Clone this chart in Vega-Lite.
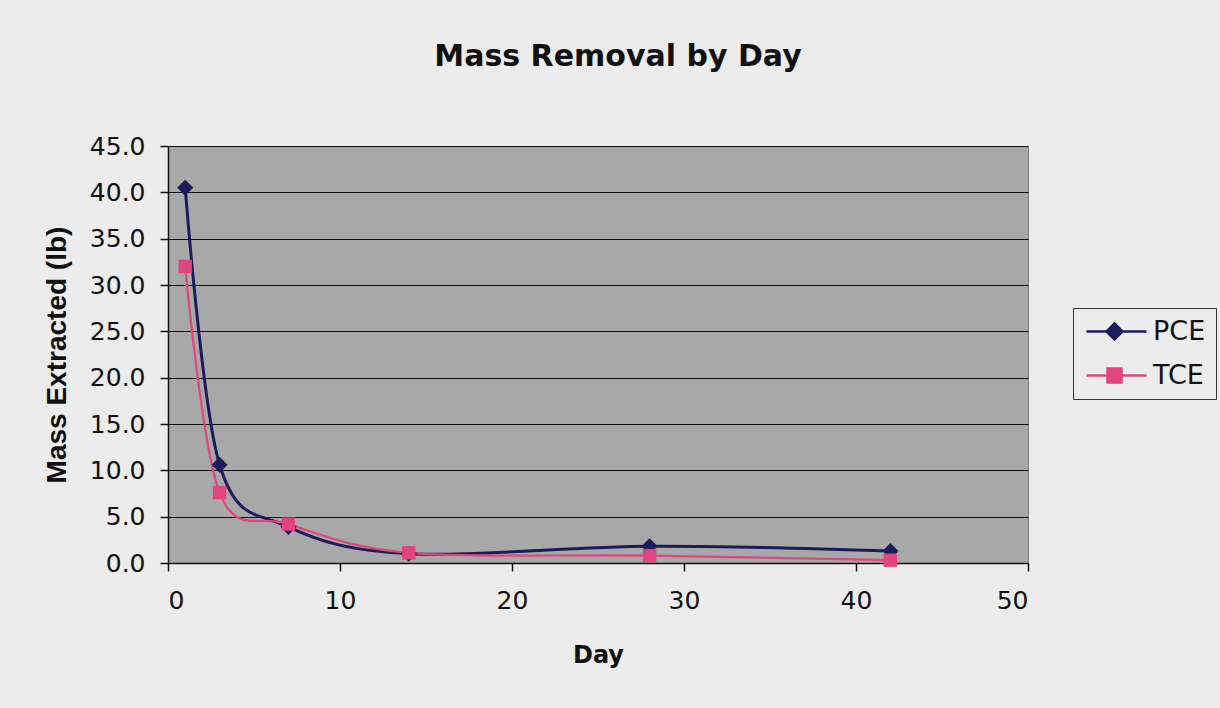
{
  "$schema": "https://vega.github.io/schema/vega-lite/v6.json",
  "width": 860,
  "height": 417,
  "autosize": {"type": "none"},
  "padding": {"left": 168, "top": 146, "right": 192, "bottom": 145},
  "background": "#ececec",
  "title": {
    "text": "Mass Removal by Day",
    "font": "DejaVu Sans",
    "fontSize": 30,
    "fontWeight": "bold",
    "color": "#111111",
    "anchor": "middle",
    "dx": 20,
    "offset": 62
  },
  "config": {
    "view": {"fill": "#a8a8a8", "stroke": "#7a7a7a", "strokeWidth": 1},
    "axis": {
      "labelFont": "DejaVu Sans",
      "labelFontSize": 25,
      "labelColor": "#111111",
      "titleFont": "DejaVu Sans",
      "titleFontSize": 24,
      "titleFontWeight": "bold",
      "titleColor": "#111111",
      "domainColor": "#111111",
      "tickColor": "#111111",
      "domainWidth": 1.5,
      "tickWidth": 1.5,
      "tickSize": 8
    }
  },
  "data": {
    "values": [
      {"day": 1, "value": 40.5, "series": "PCE"},
      {"day": 3, "value": 10.6, "series": "PCE"},
      {"day": 7, "value": 3.9, "series": "PCE"},
      {"day": 14, "value": 1.0, "series": "PCE"},
      {"day": 28, "value": 1.8, "series": "PCE"},
      {"day": 42, "value": 1.3, "series": "PCE"},
      {"day": 1, "value": 32.0, "series": "TCE"},
      {"day": 3, "value": 7.6, "series": "TCE"},
      {"day": 7, "value": 4.2, "series": "TCE"},
      {"day": 14, "value": 1.1, "series": "TCE"},
      {"day": 28, "value": 0.8, "series": "TCE"},
      {"day": 42, "value": 0.3, "series": "TCE"}
    ]
  },
  "encoding": {
    "x": {
      "field": "day",
      "type": "quantitative",
      "scale": {"domain": [0, 50], "nice": false, "zero": false},
      "axis": {"values": [0, 10, 20, 30, 40, 50], "grid": false, "title": "Day", "titlePadding": 30, "labelPadding": 17}
    },
    "y": {
      "field": "value",
      "type": "quantitative",
      "scale": {"domain": [0, 45], "nice": false},
      "axis": {
        "values": [0, 5, 10, 15, 20, 25, 30, 35, 40, 45],
        "format": ".1f",
        "grid": true,
        "gridColor": "#111111",
        "gridWidth": 1,
        "gridOpacity": 1,
        "title": "Mass Extracted (lb)",
        "titleFont": "Liberation Sans",
        "titleFontSize": 28,
        "titlePadding": 18,
        "labelPadding": 15
      }
    }
  },
  "resolve": {"scale": {"color": "independent"}, "legend": {"color": "independent"}},
  "layer": [
    {
      "mark": {"type": "line", "interpolate": "cardinal"},
      "encoding": {
        "strokeWidth": {
          "field": "series",
          "type": "nominal",
          "scale": {"domain": ["PCE", "TCE"], "range": [3, 2.2]},
          "legend": null
        },
        "color": {
          "field": "series",
          "type": "nominal",
          "scale": {"domain": ["PCE", "TCE"], "range": ["#1c1b5c", "#e0457f"]},
          "legend": {
            "title": null,
            "orient": "none",
            "legendX": 905,
            "legendY": 162,
            "labelFont": "DejaVu Sans",
            "labelFontSize": 27,
            "labelColor": "#111111",
            "strokeColor": "#333333",
            "fillColor": "#ececec",
            "padding": 10,
            "rowPadding": 16,
            "symbolSize": 400,
            "symbolStrokeWidth": 2.5,
            "labelOffset": 43,
            "encode": {
              "symbols": {
                "update": {
                  "shape": {"signal": "datum.value === 'PCE' ? 'M-1,0H5M1.8,-0.8L2.6,0L1.8,0.8L1,0Z' : 'M-1,0H5M1.1,-0.7H2.5V0.7H1.1Z'"},
                  "fill": {"signal": "datum.value === 'PCE' ? '#1c1b5c' : '#e0457f'"},
                  "stroke": {"signal": "datum.value === 'PCE' ? '#1c1b5c' : '#e0457f'"},
                  "fillOpacity": {"value": 1},
                  "opacity": {"value": 1}
                }
              }
            }
          }
        }
      }
    },
    {
      "mark": {"type": "point", "filled": true, "opacity": 1},
      "encoding": {
        "color": {
          "field": "series",
          "type": "nominal",
          "scale": {"domain": ["PCE", "TCE"], "range": ["#1c1b5c", "#e0457f"]},
          "legend": null
        },
        "shape": {
          "field": "series",
          "type": "nominal",
          "scale": {"domain": ["PCE", "TCE"], "range": ["diamond", "square"]},
          "legend": null
        },
        "size": {
          "field": "series",
          "type": "nominal",
          "scale": {"domain": ["PCE", "TCE"], "range": [260, 180]},
          "legend": null
        }
      }
    }
  ]
}
